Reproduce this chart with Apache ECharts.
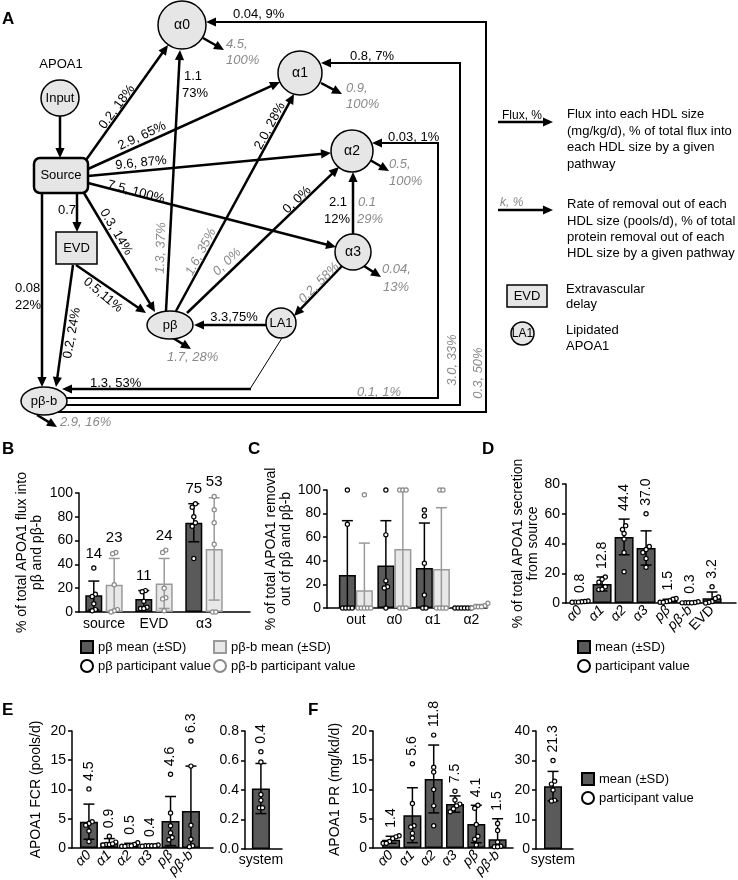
<!DOCTYPE html>
<html><head><meta charset="utf-8">
<script src="https://cdn.jsdelivr.net/npm/echarts@6/dist/echarts.min.js"></script>
<style>html,body{margin:0;padding:0;background:#fff}#c{width:738px;height:880px}</style>
</head><body><div id="c"></div>
<script>
const FONT = "'Liberation Sans', Arial, Helvetica, sans-serif";
const GRAY = '#8a8a8a';

// ---------------- Panel A : diagram text (values as printed) ----------------
const aFluxLabels = ['0.2, 18%','2.9, 65%','9.6, 87%','7.5, 100%','0.7','0.3, 14%','0.5,11%','0.2, 24%','2.0, 28%','0, 0%','3.3,75%','0.04, 9%','0.8, 7%','0.03, 1%','1.3, 53%'];
const aRateLabels = ['1.3, 37%','1.6, 35%','0, 0%','0.2, 58%','1.7, 28%','2.9, 16%','0.1, 1%','3.0, 33%','0.3, 50%'];

// ---------------- Panel B ----------------
const bCats = ['source','EVD','α3'];
const bPbMean = [14, 11, 75];
const bPbSd = [12, 7, 16];
const bPbbMean = [23, 24, 53];
const bPbbSd = [22, 21, 43];
const bPbDots = [[37,15,13,7,2,1],[18,17,9,4,3,3],[91,88,80,75,72,45]];
const bPbbDots = [[50,49,23,2,1,0],[52,50,20,12,11,1],[97,86,75,57,0,0]];
const bPbLabels = ['14','11','75'];
const bPbbLabels = ['23','24','53'];

// ---------------- Panel C ----------------
const cCats = ['out','α0','α1','α2'];
const cPbMean = [28, 36, 34, 0];
const cPbSd = [46, 38, 38, 0];
const cPbbMean = [15, 50, 33, 1.5];
const cPbbSd = [40, 50, 52, 1.5];
const cPbDots = [[100,71,0,0,0,0],[100,62,23,18,17,0],[83,78,38,11,0,0],[0,0,0,0,0,0]];
const cPbbDots = [[96,0,0,0,0,0],[100,100,100,0,0,0],[100,100,0,0,0,0],[4,2,1,1,1,0]];

// ---------------- Panel D ----------------
const dCats = ['α0','α1','α2','α3','pβ','pβ-b','EVD'];
const dMean = [0.8, 12.8, 44.4, 37.0, 1.5, 0.3, 3.2];
const dSd = [0.5, 4.7, 12, 11.5, 1, 0.3, 4.2];
const dDots = [[1.3,1,0.8,0.6,0.5,0.6],[17.5,16,14,11,9,9.3],[52,49.4,46.7,43,34,21],[60,38,36,34,30,24],[3,2.5,1.5,1,0.5,0.5],[0.8,0.3,0.2,0.2,0.1,0.2],[11,4,3,1,0.5,0]];
const dLabels = ['0.8','12.8','44.4','37.0','1.5','0.3','3.2'];

// ---------------- Panel E ----------------
const eCats = ['α0','α1','α2','α3','pβ','pβ-b'];
const eMean = [4.5, 0.9, 0.5, 0.4, 4.6, 6.3];
const eSd = [3.0, 0.7, 0.3, 0.1, 4.2, 7.7];
const eDots = [[10.1,4.5,4.2,3.9,2.9,1.1],[2,1,0.6,0.5,0.6,0.7],[0.9,0.6,0.4,0.4,0.3,0.3],[0.5,0.4,0.4,0.3,0.4,0.4],[12.6,6,3.8,2.6,1.8,1.4],[18.3,14,3.9,1.5,0.4,0.2]];
const eLabels = ['4.5','0.9','0.5','0.4','4.6','6.3'];
const eSysCats = ['system'];
const eSysMean = [0.41];
const eSysSd = [0.17];
const eSysDots = [[0.66,0.59,0.37,0.33,0.28,0.28]];
const eSysLabels = ['0.4'];

// ---------------- Panel F ----------------
const fCats = ['α0','α1','α2','α3','pβ','pβ-b'];
const fMean = [1.4, 5.6, 11.8, 7.5, 4.1, 1.5];
const fSd = [0.6, 4.7, 5.8, 1.4, 3.2, 3.5];
const fDots = [[2.1,1.9,1.6,1.1,0.8,0.8],[14.4,7.6,3.8,3.6,2.5,1.7],[19.3,13.8,13,10,7.2,3.8],[9.7,8.2,7.5,7.2,6.7,6.2],[7.3,6.8,4,2,1.5,0.5],[4.2,3,1,0.3,0.2,0.2]];
const fLabels = ['1.4','5.6','11.8','7.5','4.1','1.5'];
const fSysCats = ['system'];
const fSysMean = [21.3];
const fSysSd = [5];
const fSysDots = [[30,23,22,20,16.5,16.3]];
const fSysLabels = ['21.3'];

// ================= layout of the schematic (pixel space of the hidden grid) =================
const aNodes = [
  {s:'e', cx:182, cy:25, rx:24, ry:24, t:'α0', fs:14},
  {s:'e', cx:300, cy:73, rx:22, ry:22, t:'α1', fs:14},
  {s:'e', cx:352, cy:151, rx:21, ry:21, t:'α2', fs:14},
  {s:'e', cx:353, cy:252, rx:18, ry:18, t:'α3', fs:14},
  {s:'e', cx:60, cy:98, rx:19, ry:18, t:'Input', fs:13},
  {s:'r', x:34, y:158, w:54, h:35, r:6, t:'Source', fs:13, lw:2.5},
  {s:'r', x:56, y:232, w:41, h:32, r:0, t:'EVD', fs:13},
  {s:'e', cx:170, cy:325, rx:23, ry:14, t:'pβ', fs:13},
  {s:'e', cx:44, cy:401, rx:23, ry:14, t:'pβ-b', fs:13},
  {s:'e', cx:281, cy:323, rx:15, ry:15, t:'LA1', fs:13},
  {s:'r', x:507, y:285, w:40, h:22, r:0, t:'EVD', fs:13},
  {s:'e', cx:522.5, cy:333.5, rx:11.5, ry:11.5, t:'LA1', fs:12}
];
const aEdges = [
  {p:[[60,116],[60,158]]},
  {p:[[86,160],[168,45]]},
  {p:[[88,169],[280,82]]},
  {p:[[88,176],[331,153]]},
  {p:[[88,183],[336,247]]},
  {p:[[77,193],[77,232]]},
  {p:[[84,193],[155,312]]},
  {p:[[42,193],[42,387]]},
  {p:[[76,265],[146,313]]},
  {p:[[73,265],[56,387]]},
  {p:[[166,311],[180,50]]},
  {p:[[176,311],[294,94]]},
  {p:[[187,313],[339,167]]},
  {p:[[266,325],[194,325]]},
  {p:[[342,266],[294,316]]},
  {p:[[353,234],[353,172]]},
  {p:[[203,38],[224,50]]},
  {p:[[321,83],[342,94]]},
  {p:[[370,160],[389,171]]},
  {p:[[364,266],[381,277]]},
  {p:[[173,338],[191,349]]},
  {p:[[37,415],[57,427]]},
  {p:[[50,412],[486,412],[486,22],[206,22]], w:2},
  {p:[[50,405],[460,405],[460,63],[321,63]], w:2},
  {p:[[50,398],[438,398],[438,143],[372,143]], w:2},
  {p:[[282,338],[250,389]], w:1, a:0},
  {p:[[251,389],[62,389]], w:2.5},
  {p:[[498,122],[553,122]]},
  {p:[[498,210],[553,210]]}
];
// [text, x, y, angle(deg, screen), colour, italic, align, size]
const aLabels = [
  ['APOA1',61,64,0,'k',0,'c',13],
  [aFluxLabels[0],117,107,-54],
  [aFluxLabels[1],142,136,-25],
  [aFluxLabels[2],141,163,-6],
  [aFluxLabels[3],136,192,15],
  [aFluxLabels[4],67,210,0],
  [aFluxLabels[5],116,232,59],
  ['0.08',15,288,0,'k',0,'l'],
  ['22%',15,305,0,'k',0,'l'],
  [aFluxLabels[6],103,295,40],
  [aFluxLabels[7],72,333,-80],
  ['1.1',184,76,0,'k',0,'l'],
  ['73%',182,93,0,'k',0,'l'],
  [aRateLabels[0],161,248,-88,'g',1],
  [aFluxLabels[8],270,126,-62],
  [aRateLabels[1],201,252,-62,'g',1],
  [aFluxLabels[9],297,200,-44],
  [aRateLabels[2],227,262,-44,'g',1],
  [aFluxLabels[10],234,317,0],
  [aRateLabels[3],319,283,-45,'g',1],
  ['2.1',347,202,0,'k',0,'r'],
  ['12%',350,219,0,'k',0,'r'],
  ['0.1',358,202,0,'g',1,'l'],
  ['29%',357,219,0,'g',1,'l'],
  ['4.5,',226,44,0,'g',1,'l'],
  ['100%',226,60,0,'g',1,'l'],
  ['0.9,',346,88,0,'g',1,'l'],
  ['100%',346,104,0,'g',1,'l'],
  ['0.5,',389,164,0,'g',1,'l'],
  ['100%',389,181,0,'g',1,'l'],
  ['0.04,',382,269,0,'g',1,'l'],
  ['13%',383,287,0,'g',1,'l'],
  [aRateLabels[4],167,357,0,'g',1,'l'],
  [aRateLabels[5],60,422,0,'g',1,'l'],
  [aFluxLabels[11],233,14,0,'k',0,'l'],
  [aFluxLabels[12],350,56,0,'k',0,'l'],
  [aFluxLabels[13],388,137,0,'k',0,'l'],
  [aFluxLabels[14],90,383,0,'k',0,'l'],
  [aRateLabels[6],357,392,0,'g',1,'l'],
  [aRateLabels[7],452,360,-90,'g',1,'c'],
  [aRateLabels[8],478,373,-90,'g',1,'c'],
  ['Flux, %',502,116,0,'k',0,'l',12],
  ['k, %',500,203,0,'g',1,'l',12],
  ['Flux into each HDL size',567,114,0,'k',0,'l'],
  ['(mg/kg/d), % of total flux into',567,131,0,'k',0,'l'],
  ['each HDL size by a given',567,147,0,'k',0,'l'],
  ['pathway',567,164,0,'k',0,'l'],
  ['Rate of removal out of each',567,204,0,'k',0,'l'],
  ['HDL size (pools/d), % of total',567,221,0,'k',0,'l'],
  ['protein removal out of each',567,237,0,'k',0,'l'],
  ['HDL size by a given pathway',567,253,0,'k',0,'l'],
  ['Extravascular',566,289,0,'k',0,'l'],
  ['delay',566,304,0,'k',0,'l'],
  ['Lipidated',566,330,0,'k',0,'l'],
  ['APOA1',566,346,0,'k',0,'l']
];

const opt = {
  animation:false, backgroundColor:'#fff', textStyle:{fontFamily:FONT},
  title:[], legend:[], grid:[], xAxis:[], yAxis:[], series:[]
};

// hidden identity grid for the schematic
opt.grid.push({left:0, top:0, width:738, height:880});
opt.xAxis.push({gridIndex:0, type:'value', min:0, max:738, show:false});
opt.yAxis.push({gridIndex:0, type:'value', min:0, max:880, inverse:true, show:false});

opt.series.push({
  type:'custom', xAxisIndex:0, yAxisIndex:0, silent:true, z:1,
  data: aEdges.map((e,i)=>[i]),
  renderItem:(params, api)=>{
    const e = aEdges[params.dataIndex];
    const pts = e.p.map(q=>api.coord(q));
    const lw = e.w || 2.5;
    const ch = [];
    if (e.a === 0) {
      ch.push({type:'polyline', shape:{points:pts}, style:{stroke:'#000', lineWidth:lw, fill:null}});
    } else {
      const n = pts.length, a = pts[n-2], b = pts[n-1];
      const dx = b[0]-a[0], dy = b[1]-a[1], L = Math.hypot(dx,dy);
      const ux = dx/L, uy = dy/L, hl = 10, hw = 4.6;
      const base = [b[0]-ux*hl, b[1]-uy*hl];
      const lp = pts.slice(0, n-1).concat([[b[0]-ux*(hl-2), b[1]-uy*(hl-2)]]);
      ch.push({type:'polyline', shape:{points:lp}, style:{stroke:'#000', lineWidth:lw, fill:null}});
      ch.push({type:'polygon', shape:{points:[b,[base[0]-uy*hw, base[1]+ux*hw],[base[0]+uy*hw, base[1]-ux*hw]]}, style:{fill:'#000'}});
    }
    return {type:'group', children:ch};
  }
});
opt.series.push({
  type:'custom', xAxisIndex:0, yAxisIndex:0, silent:true, z:3,
  data: aNodes.map((e,i)=>[i]),
  renderItem:(params, api)=>{
    const nd = aNodes[params.dataIndex];
    const st = {fill:'#e6e6e6', stroke:'#000', lineWidth:nd.lw||1.5};
    let shape, c;
    if (nd.s === 'e') {
      c = api.coord([nd.cx, nd.cy]);
      shape = {type:'ellipse', shape:{cx:c[0], cy:c[1], rx:nd.rx, ry:nd.ry}, style:st};
    } else {
      const p0 = api.coord([nd.x, nd.y]);
      c = [p0[0]+nd.w/2, p0[1]+nd.h/2];
      shape = {type:'rect', shape:{x:p0[0], y:p0[1], width:nd.w, height:nd.h, r:nd.r}, style:st};
    }
    return {type:'group', children:[shape,
      {type:'text', x:c[0], y:c[1], style:{text:nd.t, fill:'#000', fontSize:nd.fs, fontFamily:FONT, align:'center', verticalAlign:'middle'}}]};
  }
});
opt.series.push({
  type:'custom', xAxisIndex:0, yAxisIndex:0, silent:true, z:5,
  data: aLabels.map((e,i)=>[i]),
  renderItem:(params, api)=>{
    const l = aLabels[params.dataIndex];
    const p = api.coord([l[1], l[2]]);
    const al = {c:'center', l:'left', r:'right'}[l[6]||'c'];
    return {type:'text', x:p[0], y:p[1], rotation:-(l[3]||0)*Math.PI/180,
      style:{text:l[0], fill:(l[4]==='g'?GRAY:'#000'), fontSize:l[7]||13, fontFamily:FONT,
        fontStyle:(l[5]?'italic':'normal'), align:al, verticalAlign:'middle'}};
  }
});

// ================= bar panels =================
function spread(vals, pxPerUnit, step){
  const idx = vals.map((v,i)=>i).sort((a,b)=>vals[a]-vals[b]);
  const off = vals.map(()=>0);
  const groups = []; let g = [idx[0]];
  for (let k=1;k<idx.length;k++){
    if ((vals[idx[k]]-vals[idx[k-1]])*pxPerUnit < 4) g.push(idx[k]); else {groups.push(g); g=[idx[k]];}
  }
  groups.push(g);
  groups.forEach(gr=>gr.forEach((i,k)=>{ off[i] = (k-(gr.length-1)/2)*step; }));
  return off;
}
function addPanel(p){
  const gi = opt.grid.length;
  opt.grid.push({left:p.left, top:p.top, width:p.width, height:p.height});
  const xs = p.cats.map((c,i)=>p.first+i);
  const fmtCat = v=>{
    const i = xs.findIndex(x=>Math.abs(x-v)<1e-6);
    if (i<0) return '';
    const c = p.cats[i];
    return (p.italic && c!=='EVD' && c!=='system') ? '{i|'+c+'}' : '{n|'+c+'}';
  };
  opt.xAxis.push({gridIndex:gi, type:'value', min:0, max:p.width/p.unitPx,
    splitLine:{show:false}, axisTick:{show:false},
    axisLine:{show:true, onZero:false, lineStyle:{color:'#000', width:1.5}},
    axisLabel:{customValues:xs, formatter:fmtCat, rotate:p.rotate||0, margin:p.xMargin||5, color:'#000',
      rich:{i:{fontStyle:'italic', fontSize:14, fontFamily:FONT, color:'#000'}, n:{fontSize:14, fontFamily:FONT, color:'#000'}}}
  });
  opt.yAxis.push({gridIndex:gi, type:'value', min:0, max:p.yMax, interval:p.yInt,
    splitLine:{show:false},
    axisLine:{show:true, lineStyle:{color:'#000', width:1.5}},
    axisTick:{show:true, length:4, lineStyle:{color:'#000', width:1.5}},
    axisLabel:{fontSize:14, color:'#000', margin:6, fontFamily:FONT, formatter:p.yFmt},
    name:p.yName, nameLocation:'middle', nameRotate:90, nameGap:p.nameGap,
    nameTextStyle:{fontSize:14, color:'#000', lineHeight:15, fontFamily:FONT}
  });
  const pxPerUnit = p.height/p.yMax;
  const n = p.groups.length;
  p.groups.forEach((g,gIdx)=>{
    const off = n===1 ? 0 : (gIdx===0?-1:1)*p.barW*(1+p.gapFrac)/2;
    opt.series.push({type:'bar', name:g.name, xAxisIndex:gi, yAxisIndex:gi, silent:true, z:2,
      barWidth:p.barW, barGap:(p.gapFrac*100)+'%',
      data: xs.map((x,i)=>[x, g.mean[i]]),
      itemStyle:{color:g.fill, borderColor:g.stroke, borderWidth:1.5}});
    const cap = p.cap||11;
    opt.series.push({type:'custom', xAxisIndex:gi, yAxisIndex:gi, z:4, silent:true,
      data: xs.map((x,i)=>[x, g.mean[i], g.sd[i]]),
      renderItem:(params, api)=>{
        const x=api.value(0), m=api.value(1), s=api.value(2);
        if (!(s>0)) return null;
        const lo = Math.max(0, m-s);
        const t = api.coord([x, m+s]), b = api.coord([x, lo]);
        const cx = t[0]+off, st = {stroke:g.err, lineWidth:1.5};
        const ch = [{type:'line', shape:{x1:cx,y1:t[1],x2:cx,y2:b[1]}, style:st},
                    {type:'line', shape:{x1:cx-cap/2,y1:t[1],x2:cx+cap/2,y2:t[1]}, style:st}];
        if (lo>0) ch.push({type:'line', shape:{x1:cx-cap/2,y1:b[1],x2:cx+cap/2,y2:b[1]}, style:st});
        return {type:'group', children:ch};
      }});
    const dd = [];
    g.dots.forEach((vals,i)=>{
      const o = spread(vals, pxPerUnit, 3.2);
      vals.forEach((v,k)=>dd.push({value:[xs[i], v], symbolOffset:[off+o[k], 0]}));
    });
    opt.series.push({type:'scatter', name:g.dotName, xAxisIndex:gi, yAxisIndex:gi, z:6, silent:true,
      symbol:'circle', symbolSize:4.2, data:dd,
      itemStyle:{color:'#fff', borderColor:g.dot, borderWidth:1.2, opacity:1}});
    if (g.labels) {
      const vert = p.labelMode==='v';
      opt.series.push({type:'custom', xAxisIndex:gi, yAxisIndex:gi, z:7, silent:true,
        data: xs.map((x,i)=>[x, Math.max(g.mean[i]+g.sd[i], ...g.dots[i])]),
        renderItem:(params, api)=>{
          const q = api.coord([api.value(0), api.value(1)]);
          const txt = g.labels[params.dataIndex];
          if (vert) return {type:'text', x:q[0]+off, y:q[1]-8, rotation:Math.PI/2,
            style:{text:txt, fill:'#000', fontSize:14, fontFamily:FONT, align:'left', verticalAlign:'middle'}};
          return {type:'text', x:q[0]+off, y:q[1]-7,
            style:{text:txt, fill:'#000', fontSize:15, fontFamily:FONT, align:'center', verticalAlign:'bottom'}};
        }});
    }
  });
}

const DARK = {fill:'#5a5a5a', stroke:'#000', err:'#000', dot:'#000'};
const LIGHT = {fill:'#e8e8e8', stroke:'#9a9a9a', err:'#9a9a9a', dot:'#8a8a8a'};

addPanel({left:79, top:493, width:171, height:119, unitPx:50, first:0.5, cats:bCats,
  yMax:100, yInt:20, yName:'% of total APOA1 flux into\npβ and pβ-b', nameGap:34,
  barW:17, gapFrac:0.2, labelMode:'h',
  groups:[
    Object.assign({name:'pβ mean (±SD)', dotName:'pβ participant value', mean:bPbMean, sd:bPbSd, dots:bPbDots, labels:bPbLabels}, DARK),
    Object.assign({name:'pβ-b mean (±SD)', dotName:'pβ-b participant value', mean:bPbbMean, sd:bPbbSd, dots:bPbbDots, labels:bPbbLabels}, LIGHT)
  ]});
addPanel({left:327, top:490, width:160, height:118, unitPx:38.5, first:0.75, cats:cCats,
  yMax:100, yInt:20, yName:'% of total APOA1 removal\nout of pβ and pβ-b', nameGap:31,
  barW:17, gapFrac:0,
  groups:[
    Object.assign({name:'pβ mean (±SD)', dotName:'pβ participant value', mean:cPbMean, sd:cPbSd, dots:cPbDots}, DARK),
    Object.assign({name:'pβ-b mean (±SD)', dotName:'pβ-b participant value', mean:cPbbMean, sd:cPbbSd, dots:cPbbDots}, LIGHT)
  ]});
addPanel({left:566, top:484, width:170, height:119, unitPx:22, first:0.64, cats:dCats, italic:true, rotate:45,
  yMax:80, yInt:20, yName:'% of total APOA1 secretion\nfrom source', nameGap:25,
  barW:19, gapFrac:0, labelMode:'v',
  groups:[Object.assign({name:'mean (±SD)', dotName:'participant value', mean:dMean, sd:dSd, dots:dDots, labels:dLabels}, DARK)]});
addPanel({left:72, top:731, width:141, height:118, unitPx:20.4, first:0.83, cats:eCats, italic:true, rotate:45,
  yMax:20, yInt:5, yName:'APOA1 FCR (pools/d)', nameGap:28,
  barW:18, gapFrac:0, labelMode:'v',
  groups:[Object.assign({name:'mean (±SD)', dotName:'participant value', mean:eMean, sd:eSd, dots:eDots, labels:eLabels}, DARK)]});
addPanel({left:245, top:731, width:37, height:118, unitPx:37, first:0.43, cats:eSysCats,
  yMax:0.8, yInt:0.2, yFmt:v=>v.toFixed(1), yName:'', nameGap:10,
  barW:18, gapFrac:0, labelMode:'v', xMargin:4,
  groups:[Object.assign({name:'mean (±SD)', dotName:'participant value', mean:eSysMean, sd:eSysSd, dots:eSysDots, labels:eSysLabels}, DARK)]});
addPanel({left:373, top:731, width:140, height:118, unitPx:21.3, first:0.85, cats:fCats, italic:true, rotate:45,
  yMax:20, yInt:5, yName:'APOA1 PR (mg/kd/d)', nameGap:30,
  barW:18, gapFrac:0, labelMode:'v',
  groups:[Object.assign({name:'mean (±SD)', dotName:'participant value', mean:fMean, sd:fSd, dots:fDots, labels:fLabels}, DARK)]});
addPanel({left:536, top:731, width:37, height:118, unitPx:37, first:0.46, cats:fSysCats,
  yMax:40, yInt:10, yName:'', nameGap:10,
  barW:18, gapFrac:0, labelMode:'v', xMargin:4,
  groups:[Object.assign({name:'mean (±SD)', dotName:'participant value', mean:fSysMean, sd:fSysSd, dots:fSysDots, labels:fSysLabels}, DARK)]});

// legends
const legBase = {orient:'vertical', itemGap:5, itemWidth:12, itemHeight:12, selectedMode:false, padding:0,
  textStyle:{fontSize:13, color:'#000', fontFamily:FONT}};
opt.legend.push(Object.assign({left:80, top:640, data:[{name:'pβ mean (±SD)', icon:'rect'},{name:'pβ participant value', icon:'circle', itemStyle:{borderWidth:2}}]}, legBase));
opt.legend.push(Object.assign({left:213, top:640, data:[{name:'pβ-b mean (±SD)', icon:'rect'},{name:'pβ-b participant value', icon:'circle', itemStyle:{borderWidth:2}}]}, legBase));
opt.legend.push(Object.assign({left:577, top:640, data:[{name:'mean (±SD)', icon:'rect'},{name:'participant value', icon:'circle', itemStyle:{borderWidth:2}}]}, legBase));
opt.legend.push(Object.assign({left:581, top:772, data:[{name:'mean (±SD)', icon:'rect'},{name:'participant value', icon:'circle', itemStyle:{borderWidth:2}}]}, legBase));

// panel letters
[['A',2,11],['B',2,441],['C',248,441],['D',482,441],['E',2,702],['F',308,702]].forEach(([t,l,tp])=>{
  opt.title.push({text:t, left:l, top:tp, padding:0, textStyle:{fontSize:17, fontWeight:'bold', color:'#000', fontFamily:FONT}});
});

const chart = echarts.init(document.getElementById('c'), null, {renderer:'canvas'});
chart.setOption(opt);
</script></body></html>
